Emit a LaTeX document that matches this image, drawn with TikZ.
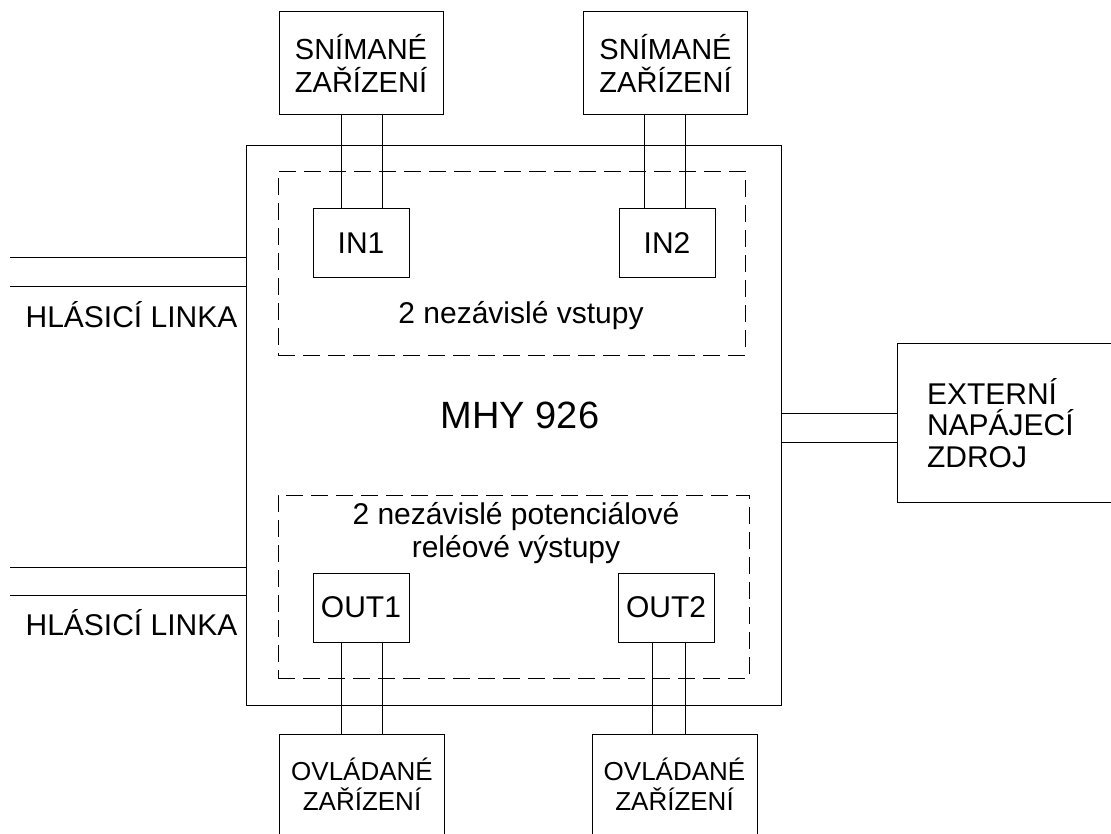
\documentclass[tikz,border=0pt]{standalone}
\usepackage{fontspec}
\setmainfont{Liberation Sans}
\usetikzlibrary{positioning,calc}

\begin{document}
\begin{tikzpicture}[
    x=1pt, y=-1pt,
    line width=1pt,
    port/.style={draw, minimum width=96pt, minimum height=69pt, inner sep=0pt, font=\fontsize{30}{33}\selectfont},
    device/.style={draw, minimum width=164pt, minimum height=103pt, align=center, font=\fontsize{29}{33}\selectfont},
    actuator/.style={minimum width=164pt, minimum height=98pt, align=center, font=\fontsize{26}{30}\selectfont},
    group/.style={draw, dash pattern=on 17pt off 8pt},
    caption/.style={font=\fontsize{30}{33}\selectfont},
    node distance=93pt
]
    \useasboundingbox (0,0) rectangle (1111,833);

    % Main unit
    \node[draw, minimum width=535pt, minimum height=560pt] (mhy) at (513.5,425) {};
    \node[font=\fontsize{38}{40}\selectfont] (title) at (520,415) {MHY 926};

    % Input and output groups
    \node[group, minimum width=467pt, minimum height=184pt] (ingroup) at (511.5,263) {};
    \node[group, minimum width=471pt, minimum height=183pt] (outgroup) at (513.5,586.5) {};
    \node[caption] (intext) at (521,316) {2 nezávislé vstupy};
    \node[caption, align=center] (outtext) at (516,533) {2 nezávislé potenciálové\\reléové výstupy};

    % Ports
    \node[port] (in1) at (361,243) {IN1};
    \node[port] (in2) at (667,243) {IN2};
    \node[port] (out1) at (361,607.5) {OUT1};
    \node[port] (out2) at (666,607.5) {OUT2};

    % Devices
    \node[device, above=of in1] (snim1) {SNÍMANÉ\\ZAŘÍZENÍ};
    \node[device, above=of in2, xshift=-1.5pt] (snim2) {SNÍMANÉ\\ZAŘÍZENÍ};
    \node[actuator, below=92pt of out1, xshift=1pt] (ovl1) {OVLÁDANÉ\\ZAŘÍZENÍ};
    \node[actuator, below=92pt of out2, xshift=8.5pt] (ovl2) {OVLÁDANÉ\\ZAŘÍZENÍ};
    \draw (ovl1.south west) |- (ovl1.north east) -- (ovl1.south east);
    \draw (ovl2.south west) |- (ovl2.north east) -- (ovl2.south east);

    % Power supply
    \node[caption, text width=155pt, inner xsep=29pt, minimum height=158pt, align=left,
        font=\fontsize{30}{31.5}\selectfont] (ext) at (1004.5,423) {EXTERNÍ\\NAPÁJECÍ\\ZDROJ};
    \draw (ext.north east) -| (ext.south west) -- (ext.south east);

    % Wires
    \foreach \dx in {-20,21} {
        \draw ([xshift=\dx pt]in1.north) -- ([xshift=\dx pt]in1.north |- snim1.south);
        \draw ([xshift=\dx pt]out1.south) -- ([xshift=\dx pt]out1.south |- ovl1.north);
    }
    \foreach \dx in {-23,18}
        \draw ([xshift=\dx pt]in2.north) -- ([xshift=\dx pt]in2.north |- snim2.south);
    \foreach \dx in {-14,19}
        \draw ([xshift=\dx pt]out2.south) -- ([xshift=\dx pt]out2.south |- ovl2.north);
    \foreach \dy in {-10,19}
        \draw ($(ext.west)+(0,\dy)$) -- ($(mhy.east |- ext.west)+(0,\dy)$);

    % Signal lines
    \coordinate (line1a) at (10,257);
    \coordinate (line1b) at (10,286);
    \coordinate (line2a) at (10,567);
    \coordinate (line2b) at (10,595);
    \foreach \c in {line1a,line1b,line2a,line2b}
        \draw (\c) -- (\c -| mhy.west);
    \node[caption] (hl1) at (131.5,315) {HLÁSICÍ LINKA};
    \node[caption] (hl2) at (131.5,623) {HLÁSICÍ LINKA};
\end{tikzpicture}
\end{document}
